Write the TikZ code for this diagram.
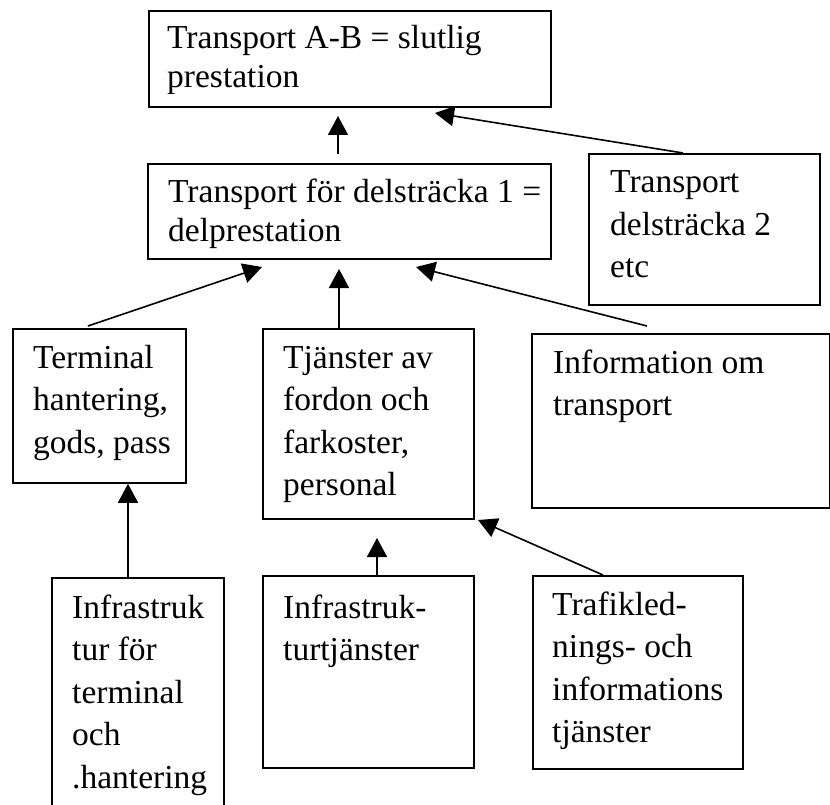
\documentclass[tikz,border=0pt]{standalone}
\usepackage{fontspec}
\setmainfont{Liberation Serif}
\usetikzlibrary{arrows.meta}
\newcommand\natsp{\spaceskip=0pt\xspaceskip=0pt\relax}
\begin{document}
\begin{tikzpicture}[x=1pt,y=-1pt,
  box/.style={draw, line width=1.8pt, rectangle, inner sep=0pt, anchor=north west},
  txt/.style={anchor=base west, inner sep=0pt, align=left, text width=400pt,
    font=\fontsize{33.5}{42.5}\selectfont},
  toptxt/.style={txt, font=\fontsize{33.5}{39}\selectfont},
  arr/.style={-{Triangle[length=19pt,width=20pt]}, line width=1.6pt}]
\useasboundingbox (0,0) rectangle (830,805);
\clip (0,0) rectangle (830,805);
% boxes
\node[box, minimum width=402pt, minimum height=96pt] (b1) at (148,10) {};
\node[box, minimum width=403pt, minimum height=95pt] (b2) at (147,163) {};
\node[box, minimum width=231pt, minimum height=151pt] (b3) at (588,153) {};
\node[box, minimum width=173pt, minimum height=154pt] (b4) at (12,328) {};
\node[box, minimum width=211pt, minimum height=190pt] (b5) at (262,328) {};
\node[box, minimum width=298pt, minimum height=174pt] (b6) at (531,333) {};
\node[box, minimum width=172pt, minimum height=240pt] (b7) at (51,577) {};
\node[box, minimum width=211pt, minimum height=192pt] (b8) at (262,575) {};
\node[box, minimum width=210pt, minimum height=193pt] (b9) at (532,575) {};
% texts
\begin{scope}
\clip (148,10) rectangle (550,94);
\node[toptxt] (b1t) at (167,49) {\natsp Transport A-B = slutlig\\prestation};
\end{scope}
\node[toptxt] (b2t) at (168,203) {\natsp Transport för delsträcka 1 =\\delprestation};
\node[txt] (b3t) at (610,193) {\natsp Transport\\delsträcka 2\\etc};
\node[txt] (b4t) at (33,368) {\natsp Terminal\\hantering,\\gods, pass};
\node[txt] (b5t) at (283,368) {\natsp Tjänster av\\fordon och\\farkoster,\\personal};
\node[txt] (b6t) at (553,373) {\natsp Information om\\transport};
\node[txt] (b7t) at (72,618) {\natsp Infrastruk\\tur för\\terminal\\och\\.hantering};
\node[txt] (b8t) at (283,618) {\natsp Infrastruk-\\turtjänster};
\node[txt] (b9t) at (552,615) {\natsp Trafikled-\\nings- och\\informations\\tjänster};
% arrow tips (free ends)
\coordinate (t1) at (338,116);
\coordinate (t2) at (435,113);
\coordinate (t3) at (262,267);
\coordinate (t4) at (339,269);
\coordinate (t5) at (416,267);
\coordinate (t7) at (377,538);
\coordinate (t8) at (478,520);
\coordinate (s1) at (338,154);
\coordinate (s3) at (88,326);
\coordinate (s5) at (647,326);
% connectors
\draw[arr] (s1) -- (t1);
\draw[arr] (b3.north west) ++(95,0) -- (t2);
\draw[arr] (s3) -- (t3);
\draw[arr] (t4 |- b5.north) -- (t4);
\draw[arr] (s5) -- (t5);
\draw[arr] (b7.north west) ++(77,0) -- (b4.south west -| 128,0);
\draw[arr] (t7 |- b8.north) -- (t7);
\draw[arr] (b9.north west) ++(71,0) -- (t8);
\end{tikzpicture}
\end{document}
